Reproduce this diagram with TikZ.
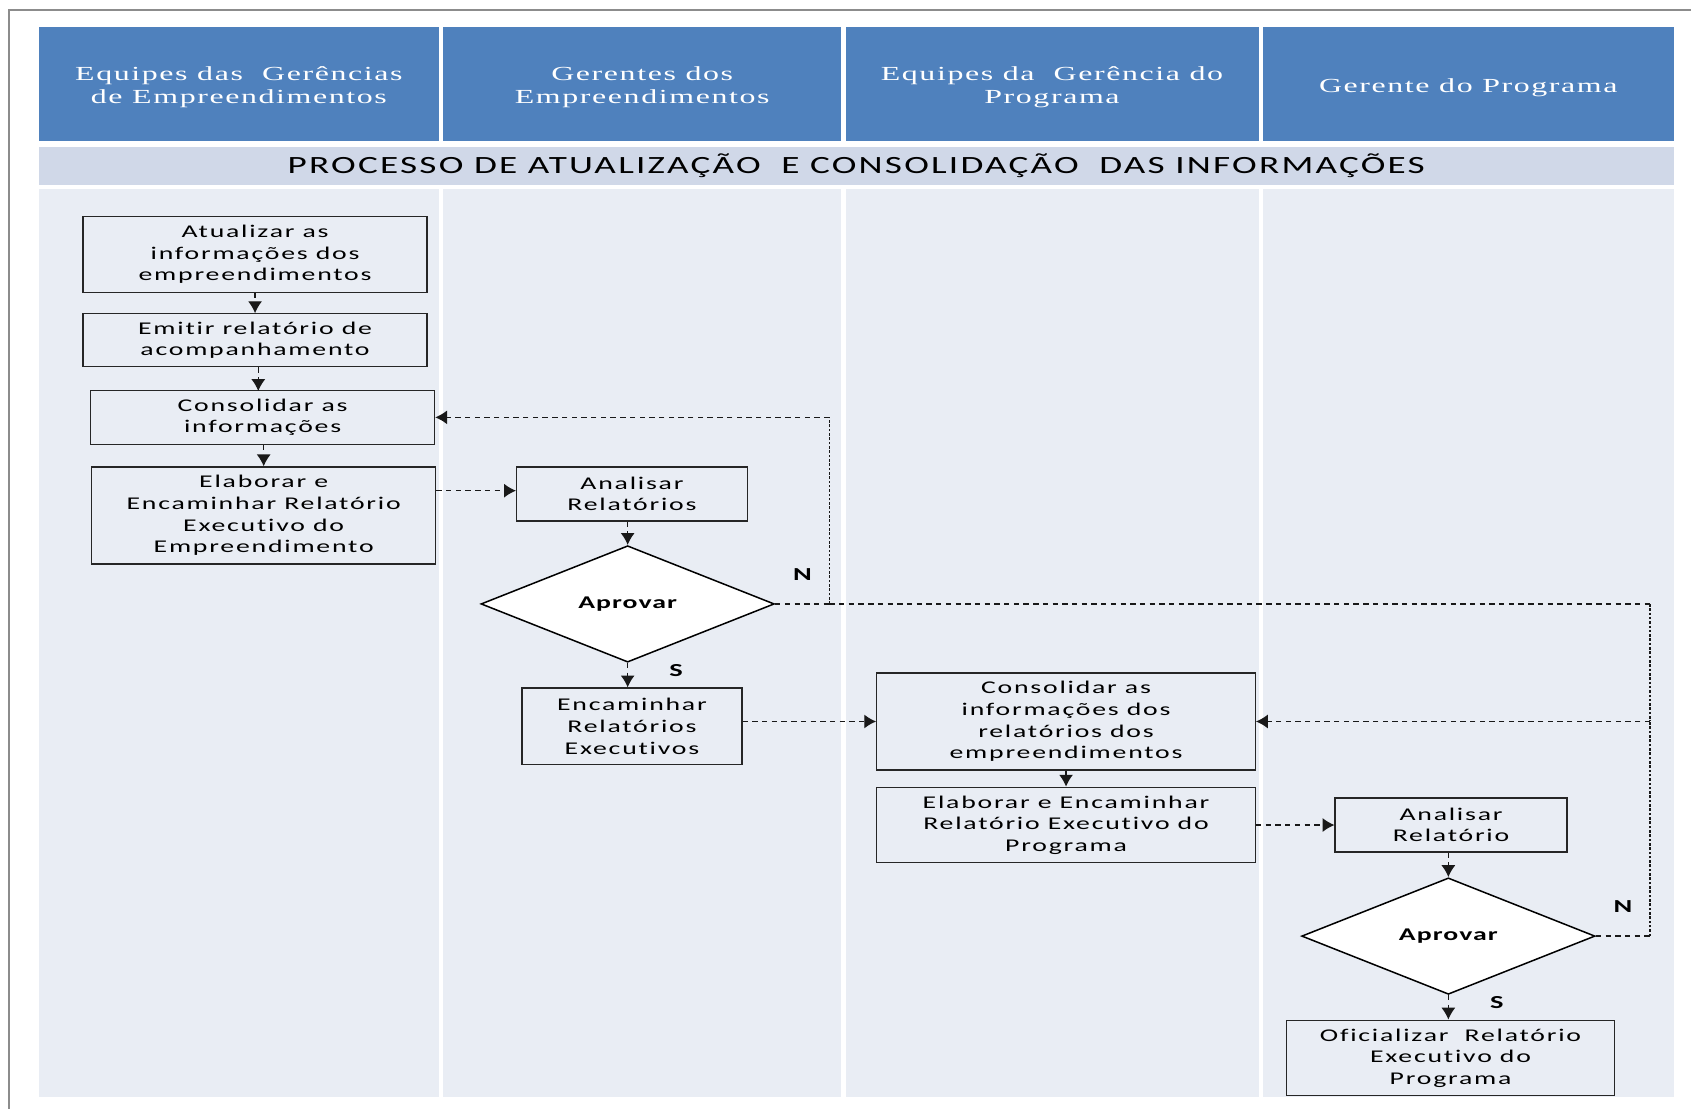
\documentclass[tikz,border=0pt]{standalone}
\usepackage{fontspec}
\setmainfont{Carlito}
\newfontfamily\boxfont[FakeStretch=1.55,LetterSpace=10,Ligatures=NoCommon]{Carlito}
\newfontfamily\lblfont[FakeStretch=1.55,LetterSpace=6,Ligatures=NoCommon]{Carlito}
\newfontfamily\headfont[FakeStretch=1.6,LetterSpace=8,Ligatures=NoCommon]{Liberation Serif}
\newfontfamily\titlefont[FakeStretch=1.5,LetterSpace=9,Ligatures=NoCommon]{Carlito}
\usetikzlibrary{shapes.geometric,arrows.meta,calc}
\definecolor{hdrblue}{HTML}{4F81BD}
\definecolor{titlebg}{HTML}{D0D8E8}
\definecolor{lanebg}{HTML}{E9EDF4}
\definecolor{framegray}{HTML}{8C8C8C}
\begin{document}
\begin{tikzpicture}[x=0.5pt,y=-0.5pt,
 box/.style={draw=black!85, line width=0.6pt, align=center, inner sep=0pt, font=\boxfont\fontsize{8.3}{10}\selectfont},
 dec/.style={diamond, draw=black, fill=white, line width=0.7pt, inner sep=0pt, minimum width=136pt, minimum height=54pt, font=\lblfont\bfseries\fontsize{8.3}{10}\selectfont},
 hdr/.style={fill=hdrblue, inner sep=0pt, minimum height=53pt},
 hdrtext/.style={text=white, align=center, inner sep=0pt, yshift=-1.5pt, font=\headfont\fontsize{9.25}{10.5}\selectfont},
 lane/.style={fill=lanebg, inner sep=0pt, minimum height=421pt},
 flow/.style={draw=black!90, line width=0.6pt, dash pattern=on 2.5pt off 2pt},
 vflow/.style={draw=black!90, line width=0.65pt, dash pattern=on 1.2pt off 0.8pt},
 arr/.style={-{Latex[length=5.5pt,width=6.5pt]}},
 lbl/.style={font=\lblfont\bfseries\fontsize{8.5}{9}\selectfont, inner sep=0pt}
]
\useasboundingbox (0,0) rectangle (1568,1028);
\draw[framegray, line width=1pt] (8,1028) -- (8,9) -- (1568,9);

% headers
\node[hdr, minimum width=185.5pt] (h1) at (221.5,78) {};
\node[hdr, minimum width=184.5pt] (h2) at (595.5,78) {};
\node[hdr, minimum width=191.5pt] (h3) at (975.5,78) {};
\node[hdr, minimum width=190.5pt] (h4) at (1361.5,78) {};
\node[hdrtext] (h1t) at (h1) {Equipes das \ Gerências\\de Empreendimentos};
\node[hdrtext] (h2t) at (h2) {Gerentes dos\\Empreendimentos};
\node[hdrtext] (h3t) at (h3) {Equipes da \ Gerência do\\Programa};
\node[hdrtext] (h4t) at (h4) {Gerente do Programa};

% title band
\node[fill=titlebg, minimum width=758pt, minimum height=18pt, inner sep=0pt,
      font=\titlefont\fontsize{11.5}{13}\selectfont] (title) at (794,154)
      {PROCESSO DE ATUALIZAÇÃO\hspace{0.4em} E CONSOLIDAÇÃO\hspace{0.4em} DAS INFORMAÇÕES};

% lanes
\node[lane, minimum width=185.5pt] (l1) at (221.5,596) {};
\node[lane, minimum width=184.5pt] (l2) at (595.5,596) {};
\node[lane, minimum width=191.5pt] (l3) at (975.5,596) {};
\node[lane, minimum width=190.5pt] (l4) at (1361.5,596) {};

% boxes
\node[box, minimum width=159.5pt, minimum height=35pt] (n1) at (236.5,236) {Atualizar as\\informações dos\\empreendimentos};
\node[box, minimum width=159.5pt, minimum height=24.5pt] (n2) at (236.5,315.5) {Emitir relatório de\\acompanhamento};
\node[box, minimum width=159.5pt, minimum height=25pt] (n3) at (243.5,387) {Consolidar as\\informações};
\node[box, minimum width=159.5pt, minimum height=45pt] (n4) at (244.5,478) {Elaborar e\\Encaminhar Relatório\\Executivo do\\Empreendimento};
\node[box, minimum width=107pt, minimum height=25pt] (n5) at (586,458) {Analisar\\Relatórios};
\node[dec] (d1) at (582,560) {Aprovar};
\node[box, minimum width=102pt, minimum height=35.5pt] (n7) at (586,673.5) {Encaminhar\\Relatórios\\Executivos};
\node[box, minimum width=175.5pt, minimum height=45pt] (n8) at (988.5,669) {Consolidar as\\informações dos\\relatórios dos\\empreendimentos};
\node[box, minimum width=175.5pt, minimum height=35pt] (n9) at (988.5,765) {Elaborar e Encaminhar\\Relatório Executivo do\\Programa};
\node[box, minimum width=107.5pt, minimum height=25pt] (n10) at (1345.5,765) {Analisar\\Relatório};
\node[dec] (d2) at (1343,868) {Aprovar};
\node[box, minimum width=152pt, minimum height=35pt] (n12) at (1345,981) {Oficializar \ Relatório\\Executivo do\\Programa};

% labels
\node[lbl] (lN1) at (744,533) {N};
\node[lbl] (lS1) at (627,622) {S};
\node[lbl] (lN2) at (1505,841) {N};
\node[lbl] (lS2) at (1388,930) {S};

% junctions
\coordinate (j1) at (769,560);
\coordinate (j2) at (1530,560);
\coordinate (j3) at (1530,669);
\coordinate (j4) at (1530,868);

% connectors
\draw[flow, arr] (n1.south -| n2.north) -- (n2.north);
\draw[flow, arr] (n2.south -| n3.north) ++(-4,0) -- ++(0,22);
\draw[flow, arr] (n3.south -| n4.north) -- (n4.north);
\draw[flow, arr] (n4.east |- 0,455) -- (n5.west |- 0,455);
\draw[flow, arr] (n5.south -| d1.north) -- (d1.north);
\draw[flow] (d1.east) -- (j1);
\draw[vflow] (j1) -- (j1 |- n3.east);
\draw[flow, arr] (j1 |- n3.east) -- (n3.east);
\draw[flow] (j1) -- (j2);
\draw[vflow] (j2) -- (j3);
\draw[flow, arr] (d1.south) -- (n7.north -| d1.south);
\draw[flow, arr] (n8.west -| n7.east) -- (n8.west);
\draw[flow, arr] (n8.south) -- (n9.north);
\draw[flow, arr] (n10.west -| n9.east) -- (n10.west);
\draw[flow, arr] (n10.south -| d2.north) -- (d2.north);
\draw[flow] (d2.east) -- (j4);
\draw[vflow] (j4) -- (j3);
\draw[flow, arr] (j3) -- (n8.east);
\draw[flow, arr] (d2.south) -- (n12.north -| d2.south);
\end{tikzpicture}
\end{document}
